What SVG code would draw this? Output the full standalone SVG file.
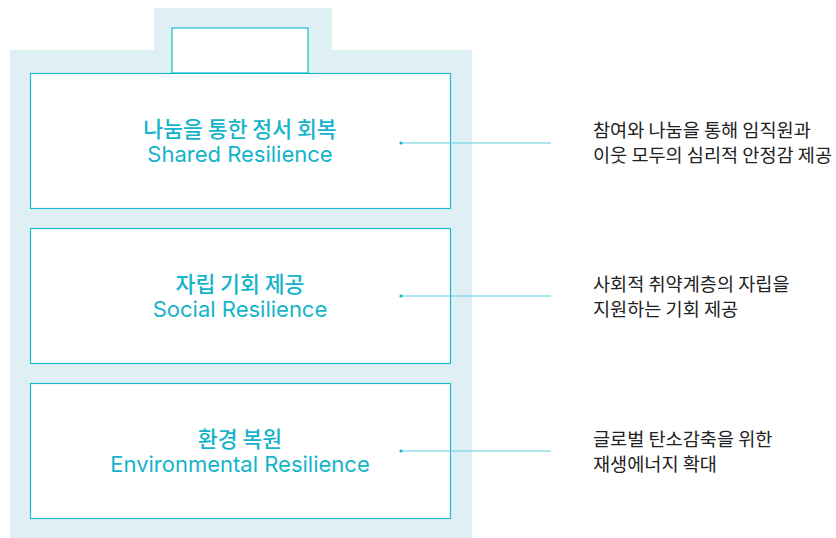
<svg xmlns="http://www.w3.org/2000/svg" width="836" height="538" viewBox="0 0 836 538">
<style>
.bg{fill:#dff0f4}
.box{fill:#fff;stroke:#1ab9cf;stroke-width:1.2}
.t{font-family:"Inter","Noto Sans CJK KR",sans-serif;font-size:22px;font-weight:400;fill:#14b4ca;text-anchor:middle}
.k{font-family:"Noto Sans CJK KR",sans-serif;font-size:21.6px;font-weight:500}
.d{font-family:"Noto Sans CJK KR",sans-serif;font-size:18.6px;fill:#222}
.ln{stroke:#5fcfdd;stroke-width:1.2;fill:none}
.dot{fill:#14b4ca}
</style>
<path class="bg" d="M10 50H154V8H332V50H472V538H10Z"/>
<rect class="box" x="172" y="28" width="136" height="45"/>
<g id="node1">
<rect class="box" x="30.5" y="73.5" width="420" height="135"/>
<text class="t k" x="240" y="137">나눔을 통한 정서 회복</text>
<text class="t" x="240" y="162">Shared Resilience</text>
</g>
<g id="node2">
<rect class="box" x="30.5" y="228.5" width="420" height="135"/>
<text class="t k" x="240" y="292">자립 기회 제공</text>
<text class="t" x="240" y="317">Social Resilience</text>
</g>
<g id="node3">
<rect class="box" x="30.5" y="383.5" width="420" height="135"/>
<text class="t k" x="240" y="447">환경 복원</text>
<text class="t" x="240" y="472">Environmental Resilience</text>
</g>
<g id="desc1">
<text class="d" x="593" y="137">참여와 나눔을 통해 임직원과</text>
<text class="d" x="593" y="162">이웃 모두의 심리적 안정감 제공</text>
</g>
<g id="desc2">
<text class="d" x="593" y="291">사회적 취약계층의 자립을</text>
<text class="d" x="593" y="316">지원하는 기회 제공</text>
</g>
<g id="desc3">
<text class="d" x="593" y="446">글로벌 탄소감축을 위한</text>
<text class="d" x="593" y="471">재생에너지 확대</text>
</g>
<g id="connectors">
<line class="ln" x1="401" y1="143" x2="551" y2="143"/>
<circle class="dot" cx="401" cy="143" r="1.6"/>
<line class="ln" x1="401" y1="296" x2="551" y2="296"/>
<circle class="dot" cx="401" cy="296" r="1.6"/>
<line class="ln" x1="401" y1="451" x2="551" y2="451"/>
<circle class="dot" cx="401" cy="451" r="1.6"/>
</g>
</svg>
